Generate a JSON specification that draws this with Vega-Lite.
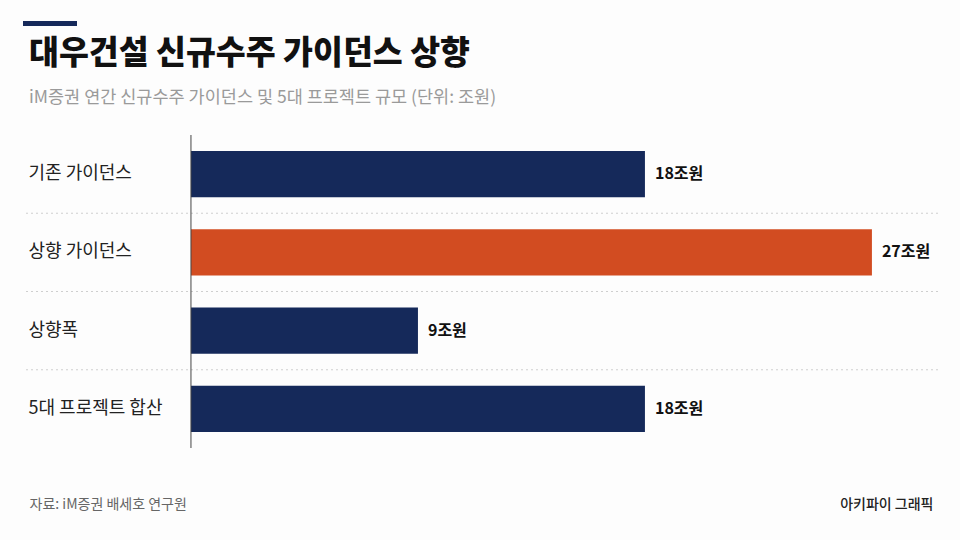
{
  "$schema": "https://vega.github.io/schema/vega-lite/v6.json",
  "background": "#fdfdfd",
  "padding": {"left": 22, "top": 17, "right": 23, "bottom": 31},
  "spacing": 9,
  "config": {
    "font": "Noto Sans CJK KR",
    "view": {"stroke": null}
  },
  "vconcat": [
    {
      "width": 54,
      "height": 5,
      "view": {"fill": "#15295a", "stroke": null},
      "data": {"values": [{}]},
      "mark": {"type": "text"},
      "encoding": {}
    },
    {
      "width": 915,
      "height": 313,
      "title": {
        "text": "대우건설 신규수주 가이던스 상향",
        "subtitle": "iM증권 연간 신규수주 가이던스 및 5대 프로젝트 규모 (단위: 조원)",
        "anchor": "start",
        "frame": "group",
        "dx": 6,
        "fontSize": 32.5,
        "fontWeight": 900,
        "color": "#111111",
        "subtitleFontSize": 17.5,
        "subtitleColor": "#9a9a9a",
        "subtitlePadding": 18,
        "offset": 28.5
      },
      "data": {
        "values": [
          {"item": "기존 가이던스", "value": 18, "label": "18조원", "type": "기존"},
          {"item": "상향 가이던스", "value": 27, "label": "27조원", "type": "상향"},
          {"item": "상향폭", "value": 9, "label": "9조원", "type": "기존"},
          {"item": "5대 프로젝트 합산", "value": 18, "label": "18조원", "type": "기존"}
        ]
      },
      "encoding": {
        "y": {
          "field": "item",
          "type": "nominal",
          "sort": null,
          "scale": {
            "domain": ["기존 가이던스", "상향 가이던스", "상향폭", "5대 프로젝트 합산"],
            "paddingInner": 0.41,
            "paddingOuter": 0.205
          },
          "axis": {
            "domain": false,
            "ticks": false,
            "grid": false,
            "labelAlign": "left",
            "labelPadding": -5,
            "labelFontSize": 18,
            "labelColor": "#222222",
            "labelLimit": 200,
            "title": "아키파이 그래픽",
            "titleAngle": 0,
            "titleX": 910,
            "titleY": 369,
            "titleAlign": "right",
            "titleBaseline": "middle",
            "titleFontSize": 14,
            "titleFontWeight": 500,
            "titleColor": "#222222"
          }
        }
      },
      "layer": [
        {
          "mark": {"type": "bar"},
          "encoding": {
            "x": {
              "field": "value",
              "type": "quantitative",
              "scale": {"domain": [-6.66, 29.62], "nice": false},
              "axis": {
                "domain": false,
                "ticks": false,
                "labels": false,
                "grid": false,
                "title": "자료: iM증권 배세호 연구원",
                "titleAnchor": "start",
                "titleAlign": "left",
                "titleX": 6,
                "titleY": 56,
                "titleBaseline": "middle",
                "titleFontSize": 14,
                "titleFontWeight": "normal",
                "titleColor": "#666666"
              }
            },
            "color": {
              "field": "type",
              "type": "nominal",
              "scale": {"domain": ["기존", "상향"], "range": ["#15295a", "#d24c21"]},
              "legend": null
            }
          }
        },
        {
          "transform": [{"filter": "datum.item !== '5대 프로젝트 합산'"}],
          "mark": {"type": "rule", "color": "#cfcfcf", "strokeWidth": 1, "strokeDash": [2, 3], "yOffset": 39.125},
          "encoding": {
            "y": {"field": "item", "type": "nominal", "sort": null}
          }
        },
        {
          "data": {"values": [{"base": 0}]},
          "mark": {"type": "rule", "color": "#444444", "strokeWidth": 1},
          "encoding": {
            "x": {"field": "base", "type": "quantitative"},
            "y": null
          }
        },
        {
          "mark": {"type": "text", "align": "left", "baseline": "middle", "dx": 10, "fontSize": 16, "fontWeight": "bold", "color": "#111111"},
          "encoding": {
            "x": {"field": "value", "type": "quantitative"},
            "text": {"field": "label"}
          }
        }
      ]
    }
  ]
}
